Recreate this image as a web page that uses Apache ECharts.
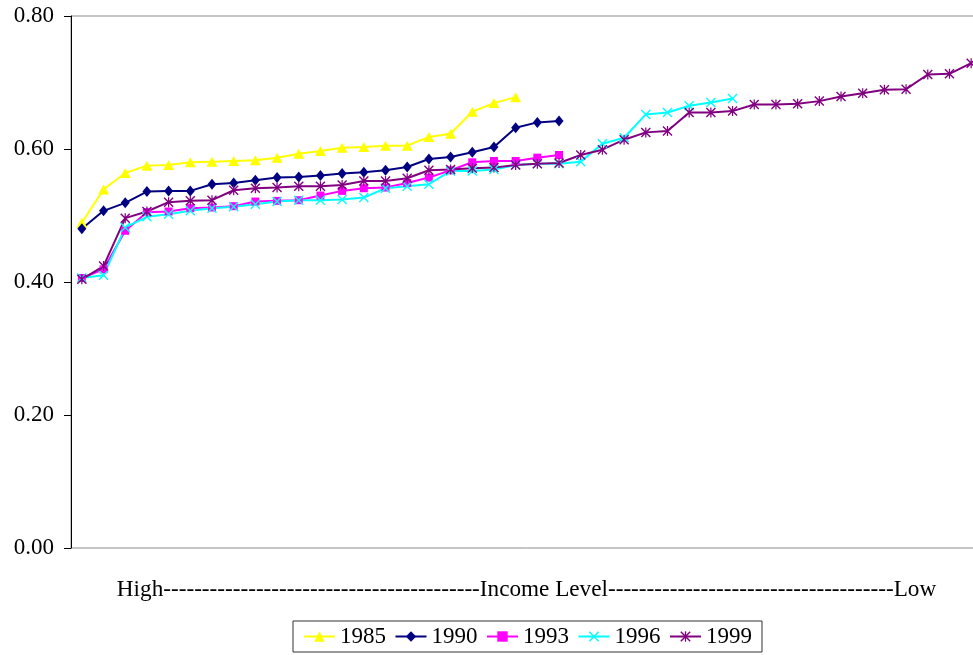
<!DOCTYPE html>
<html>
<head>
<meta charset="utf-8">
<script src="https://cdn.jsdelivr.net/npm/echarts@6/dist/echarts.min.js"></script>
<style>
  html, body { margin: 0; padding: 0; background: #fff; overflow: hidden; }
  /* the plot runs slightly past the right edge of the window */
  #chart { width: 990px; height: 655px; }
</style>
</head>
<body>
<div id="chart"></div>
<script>
// Ranked regions, from highest to lowest income
const categories = ['1','2','3','4','5','6','7','8','9','10','11','12','13','14','15','16','17','18','19','20','21',
  '22','23','24','25','26','27','28','29','30','31','32','33','34','35','36','37','38','39','40','41','42'];

const years = ['1985', '1990', '1993', '1996', '1999'];

const values1985 = [0.489, 0.539, 0.564, 0.575, 0.576, 0.580, 0.581, 0.582, 0.583, 0.587, 0.593,
  0.597, 0.602, 0.603, 0.605, 0.605, 0.618, 0.623, 0.656, 0.669, 0.678];

const values1990 = [0.480, 0.507, 0.519, 0.536, 0.537, 0.537, 0.547, 0.549, 0.553, 0.557, 0.558,
  0.560, 0.563, 0.565, 0.568, 0.573, 0.585, 0.588, 0.595, 0.603, 0.632, 0.640, 0.642];

const values1993 = [0.406, 0.419, 0.477, 0.505, 0.506, 0.511, 0.512, 0.514, 0.521, 0.522, 0.523,
  0.530, 0.537, 0.541, 0.542, 0.549, 0.557, 0.568, 0.580, 0.582, 0.582, 0.587, 0.591];

const values1996 = [0.406, 0.410, 0.482, 0.498, 0.502, 0.507, 0.511, 0.513, 0.517, 0.521, 0.523,
  0.523, 0.524, 0.527, 0.541, 0.544, 0.547, 0.567, 0.567, 0.569, 0.576, 0.578, 0.578, 0.581,
  0.608, 0.617, 0.652, 0.655, 0.665, 0.670, 0.676];

const values1999 = [0.404, 0.424, 0.496, 0.506, 0.520, 0.522, 0.523, 0.538, 0.541, 0.542, 0.544,
  0.544, 0.546, 0.552, 0.552, 0.556, 0.568, 0.569, 0.571, 0.572, 0.576, 0.578, 0.579, 0.591,
  0.599, 0.614, 0.625, 0.627, 0.655, 0.655, 0.657, 0.667, 0.667, 0.668, 0.672, 0.679, 0.684,
  0.689, 0.690, 0.712, 0.713, 0.729];

const yTicks = { min: 0, max: 0.8, step: 0.2 };

const axisTitle = 'High' + '-'.repeat(41) + 'Income Level' + '-'.repeat(37) + 'Low';

const FONT = "'Liberation Serif', 'Times New Roman', serif";

// filled cross and asterisk marker outlines
const crossPath = 'path://M0,1L1,0L5,4L9,0L10,1L6,5L10,9L9,10L5,6L1,10L0,9L4,5Z';
const starPath = 'path://M0,1L1,0L5,4L9,0L10,1L6,5L10,9L9,10L5,6L1,10L0,9L4,5Z M4.4,0L5.6,0L5.6,10L4.4,10Z';

const styles = [
  { data: values1985, color: '#FFFF00', symbol: 'triangle', size: [11, 10] },
  { data: values1990, color: '#000080', symbol: 'diamond', size: [9, 11] },
  { data: values1993, color: '#FF00FF', symbol: 'rect', size: [8, 8] },
  { data: values1996, color: '#00FFFF', symbol: crossPath, size: [10, 10] },
  { data: values1999, color: '#800080', symbol: starPath, size: [10, 10] }
];

const chart = echarts.init(document.getElementById('chart'), null, { renderer: 'canvas' });

chart.setOption({
  animation: false,
  backgroundColor: '#ffffff',
  textStyle: { fontFamily: FONT },
  grid: {
    left: 71, right: 8, top: 16, bottom: 107,
    show: true, borderColor: '#8c8c8c', borderWidth: 1, backgroundColor: 'transparent'
  },
  legend: {
    data: years,
    left: 293, top: 621,
    padding: [4, 10, 4, 10],
    borderColor: '#333', borderWidth: 1,
    itemWidth: 31, itemHeight: 13, itemGap: 8.5,
    textStyle: { fontFamily: FONT, fontSize: 23, color: '#000' }
  },
  xAxis: {
    type: 'category',
    data: categories,
    boundaryGap: true,
    axisLine: { show: false },
    axisTick: { show: false },
    axisLabel: { show: false },
    splitLine: { show: false },
    name: axisTitle,
    nameLocation: 'middle',
    nameGap: 30,
    nameTextStyle: { fontFamily: FONT, fontSize: 23.2, color: '#000' }
  },
  yAxis: {
    type: 'value',
    min: yTicks.min, max: yTicks.max, interval: yTicks.step,
    axisLine: { show: true, lineStyle: { color: '#000', width: 1 } },
    axisTick: { show: true, inside: false, length: 7, lineStyle: { color: '#000' } },
    axisLabel: {
      margin: 17, fontFamily: FONT, fontSize: 23, color: '#000',
      formatter: v => v.toFixed(2)
    },
    splitLine: { show: false }
  },
  series: styles.map((s, i) => ({
    name: years[i],
    type: 'line',
    data: s.data,
    symbol: s.symbol,
    symbolSize: s.size,
    showAllSymbol: true,
    color: s.color,
    lineStyle: { color: s.color, width: 2 },
    itemStyle: { color: s.color },
    emphasis: { disabled: true }
  }))
});
</script>
</body>
</html>
